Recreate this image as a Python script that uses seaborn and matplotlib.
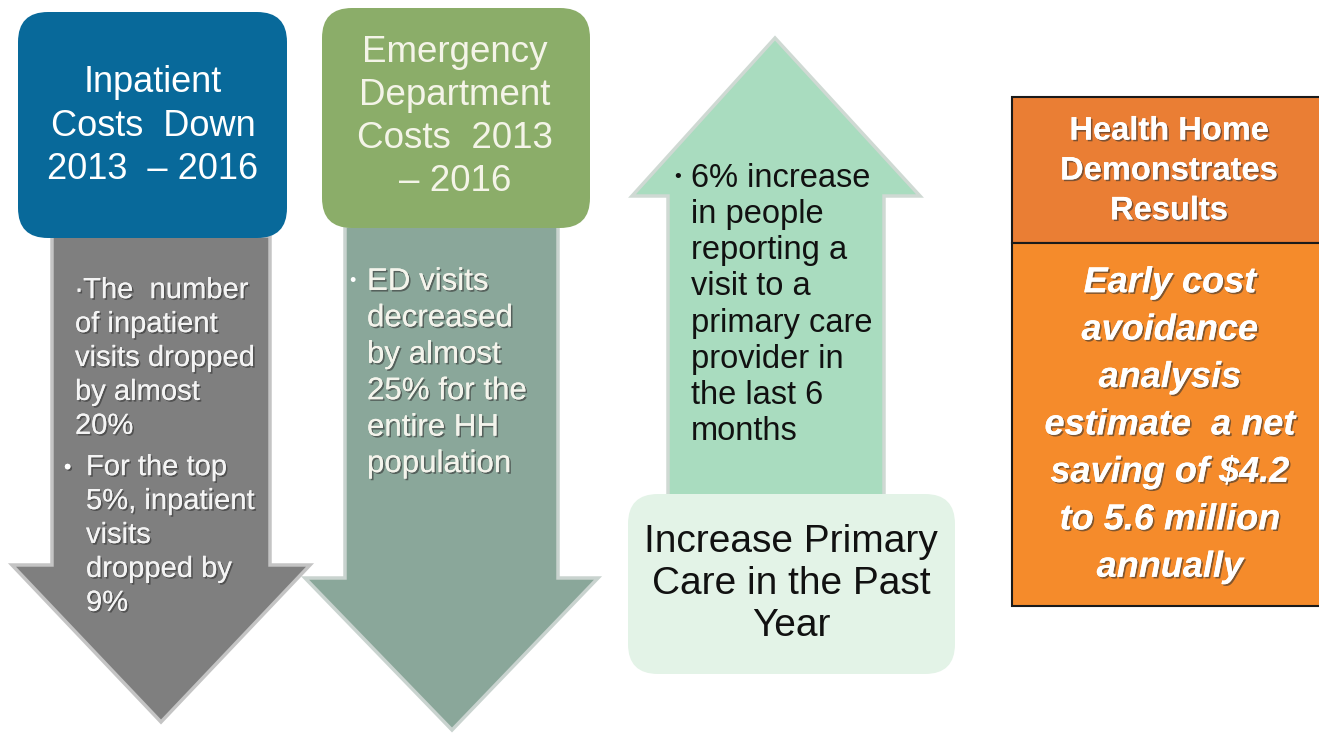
import matplotlib.pyplot as plt
import matplotlib.patches as mpatches
import matplotlib.patheffects as pe
import seaborn as sns

# textos do infográfico
titulo_internacao = "Inpatient\nCosts  Down\n2013  – 2016"
itens_internacao = ["\u2219The  number\nof inpatient\nvisits dropped\nby almost\n20%",
                    "For the top\n5%, inpatient\nvisits\ndropped by\n9%"]
titulo_emergencia = "Emergency\nDepartment\nCosts  2013\n– 2016"
itens_emergencia = ["ED visits\ndecreased\nby almost\n25% for the\nentire HH\npopulation"]
titulo_primaria = "Increase Primary\nCare in the Past\nYear"
itens_primaria = ["6% increase\nin people\nreporting a\nvisit to a\nprimary care\nprovider in\nthe last 6\nmonths"]
titulo_resultado = "Health Home\nDemonstrates\nResults"
texto_resultado = "Early cost\navoidance\nanalysis\nestimate  a net\nsaving of $4.2\nto 5.6 million\nannually"

sns.set_theme(style="white")
plt.rcParams['font.family'] = ['Liberation Sans', 'DejaVu Sans']

fig = plt.figure(figsize=(13.19, 7.34), dpi=100)
ax = fig.add_axes([0, 0, 1, 1])
ax.set_xlim(0, 1319)
ax.set_ylim(734, 0)
ax.axis('off')

sombra = [pe.withSimplePatchShadow(offset=(1.2, -1.2), shadow_rgbFace='#333333', alpha=0.6), pe.Normal()]


def seta(pontos, cor, borda):
    ax.add_patch(mpatches.Polygon(pontos, closed=True, facecolor=cor, edgecolor=borda, linewidth=2.5, zorder=1))


def caixa(x, y, w, h, cor, raio=30):
    ax.add_patch(mpatches.FancyBboxPatch((x, y), w, h, boxstyle=f"round,pad=0,rounding_size={raio}",
                                         facecolor=cor, edgecolor='none', zorder=2))


# painel 1 - internação
seta([(52, 236), (270, 236), (270, 565), (310, 565), (161, 722), (12, 565), (52, 565)], '#7f7f7f', '#c4c4c4')
caixa(18, 12, 269, 226, '#08699a')
ax.text(153, 126, titulo_internacao, ha='center', va='center', fontsize=26, color='white',
        linespacing=1.33, zorder=3)
ax.text(75, 358, itens_internacao[0], ha='left', va='center', fontsize=21, color='#f4f4f4',
        linespacing=1.27, zorder=3, path_effects=sombra)
ax.text(64, 468, "•", ha='left', va='center', fontsize=15, color='white', zorder=3, path_effects=sombra)
ax.text(86, 535, itens_internacao[1], ha='left', va='center', fontsize=21, color='#f4f4f4',
        linespacing=1.27, zorder=3, path_effects=sombra)

# painel 2 - emergência
seta([(345, 226), (558, 226), (558, 578), (598, 578), (452, 730), (305, 578), (345, 578)], '#8aa79a', '#c9d3cf')
caixa(322, 8, 268, 220, '#8bad69')
ax.text(455, 117, titulo_emergencia, ha='center', va='center', fontsize=26.5, color='#f4f4e8',
        linespacing=1.3, zorder=3)
ax.text(349, 282, "•", ha='left', va='center', fontsize=13, color='white', zorder=3)
ax.text(367, 373, itens_emergencia[0], ha='left', va='center', fontsize=22.5, color='#f4f4ec',
        linespacing=1.28, zorder=3, path_effects=sombra)

# painel 3 - atenção primária
seta([(668, 497), (668, 196), (632, 196), (775, 38), (920, 196), (884, 196), (884, 497)], '#a9dcbf', '#cfd9d3')
caixa(628, 494, 327, 180, '#e3f3e7')
ax.text(791, 584, titulo_primaria, ha='center', va='center', fontsize=28, color='#111111',
        linespacing=1.22, zorder=3)
ax.text(674, 178, "•", ha='left', va='center', fontsize=14, color='#111111', zorder=3)
ax.text(691, 305, itens_primaria[0], ha='left', va='center', fontsize=23.5, color='#111111',
        linespacing=1.22, zorder=3)

# painel 4 - resultados
ax.add_patch(mpatches.Rectangle((1012, 97), 310, 146, facecolor='#ea7e34', edgecolor='#1a1a1a',
                                linewidth=1.5, zorder=2))
ax.add_patch(mpatches.Rectangle((1012, 243), 310, 363, facecolor='#f58b2b', edgecolor='#1a1a1a',
                                linewidth=1.5, zorder=2))
ax.text(1169, 171, titulo_resultado, ha='center', va='center', fontsize=23.5, color='white',
        fontweight='bold', linespacing=1.37, zorder=3, path_effects=sombra)
ax.text(1170, 425, texto_resultado, ha='center', va='center', fontsize=26, color='white',
        fontweight='bold', fontstyle='italic', linespacing=1.46, zorder=3, path_effects=sombra)

fig.savefig('out.png', dpi=100)
